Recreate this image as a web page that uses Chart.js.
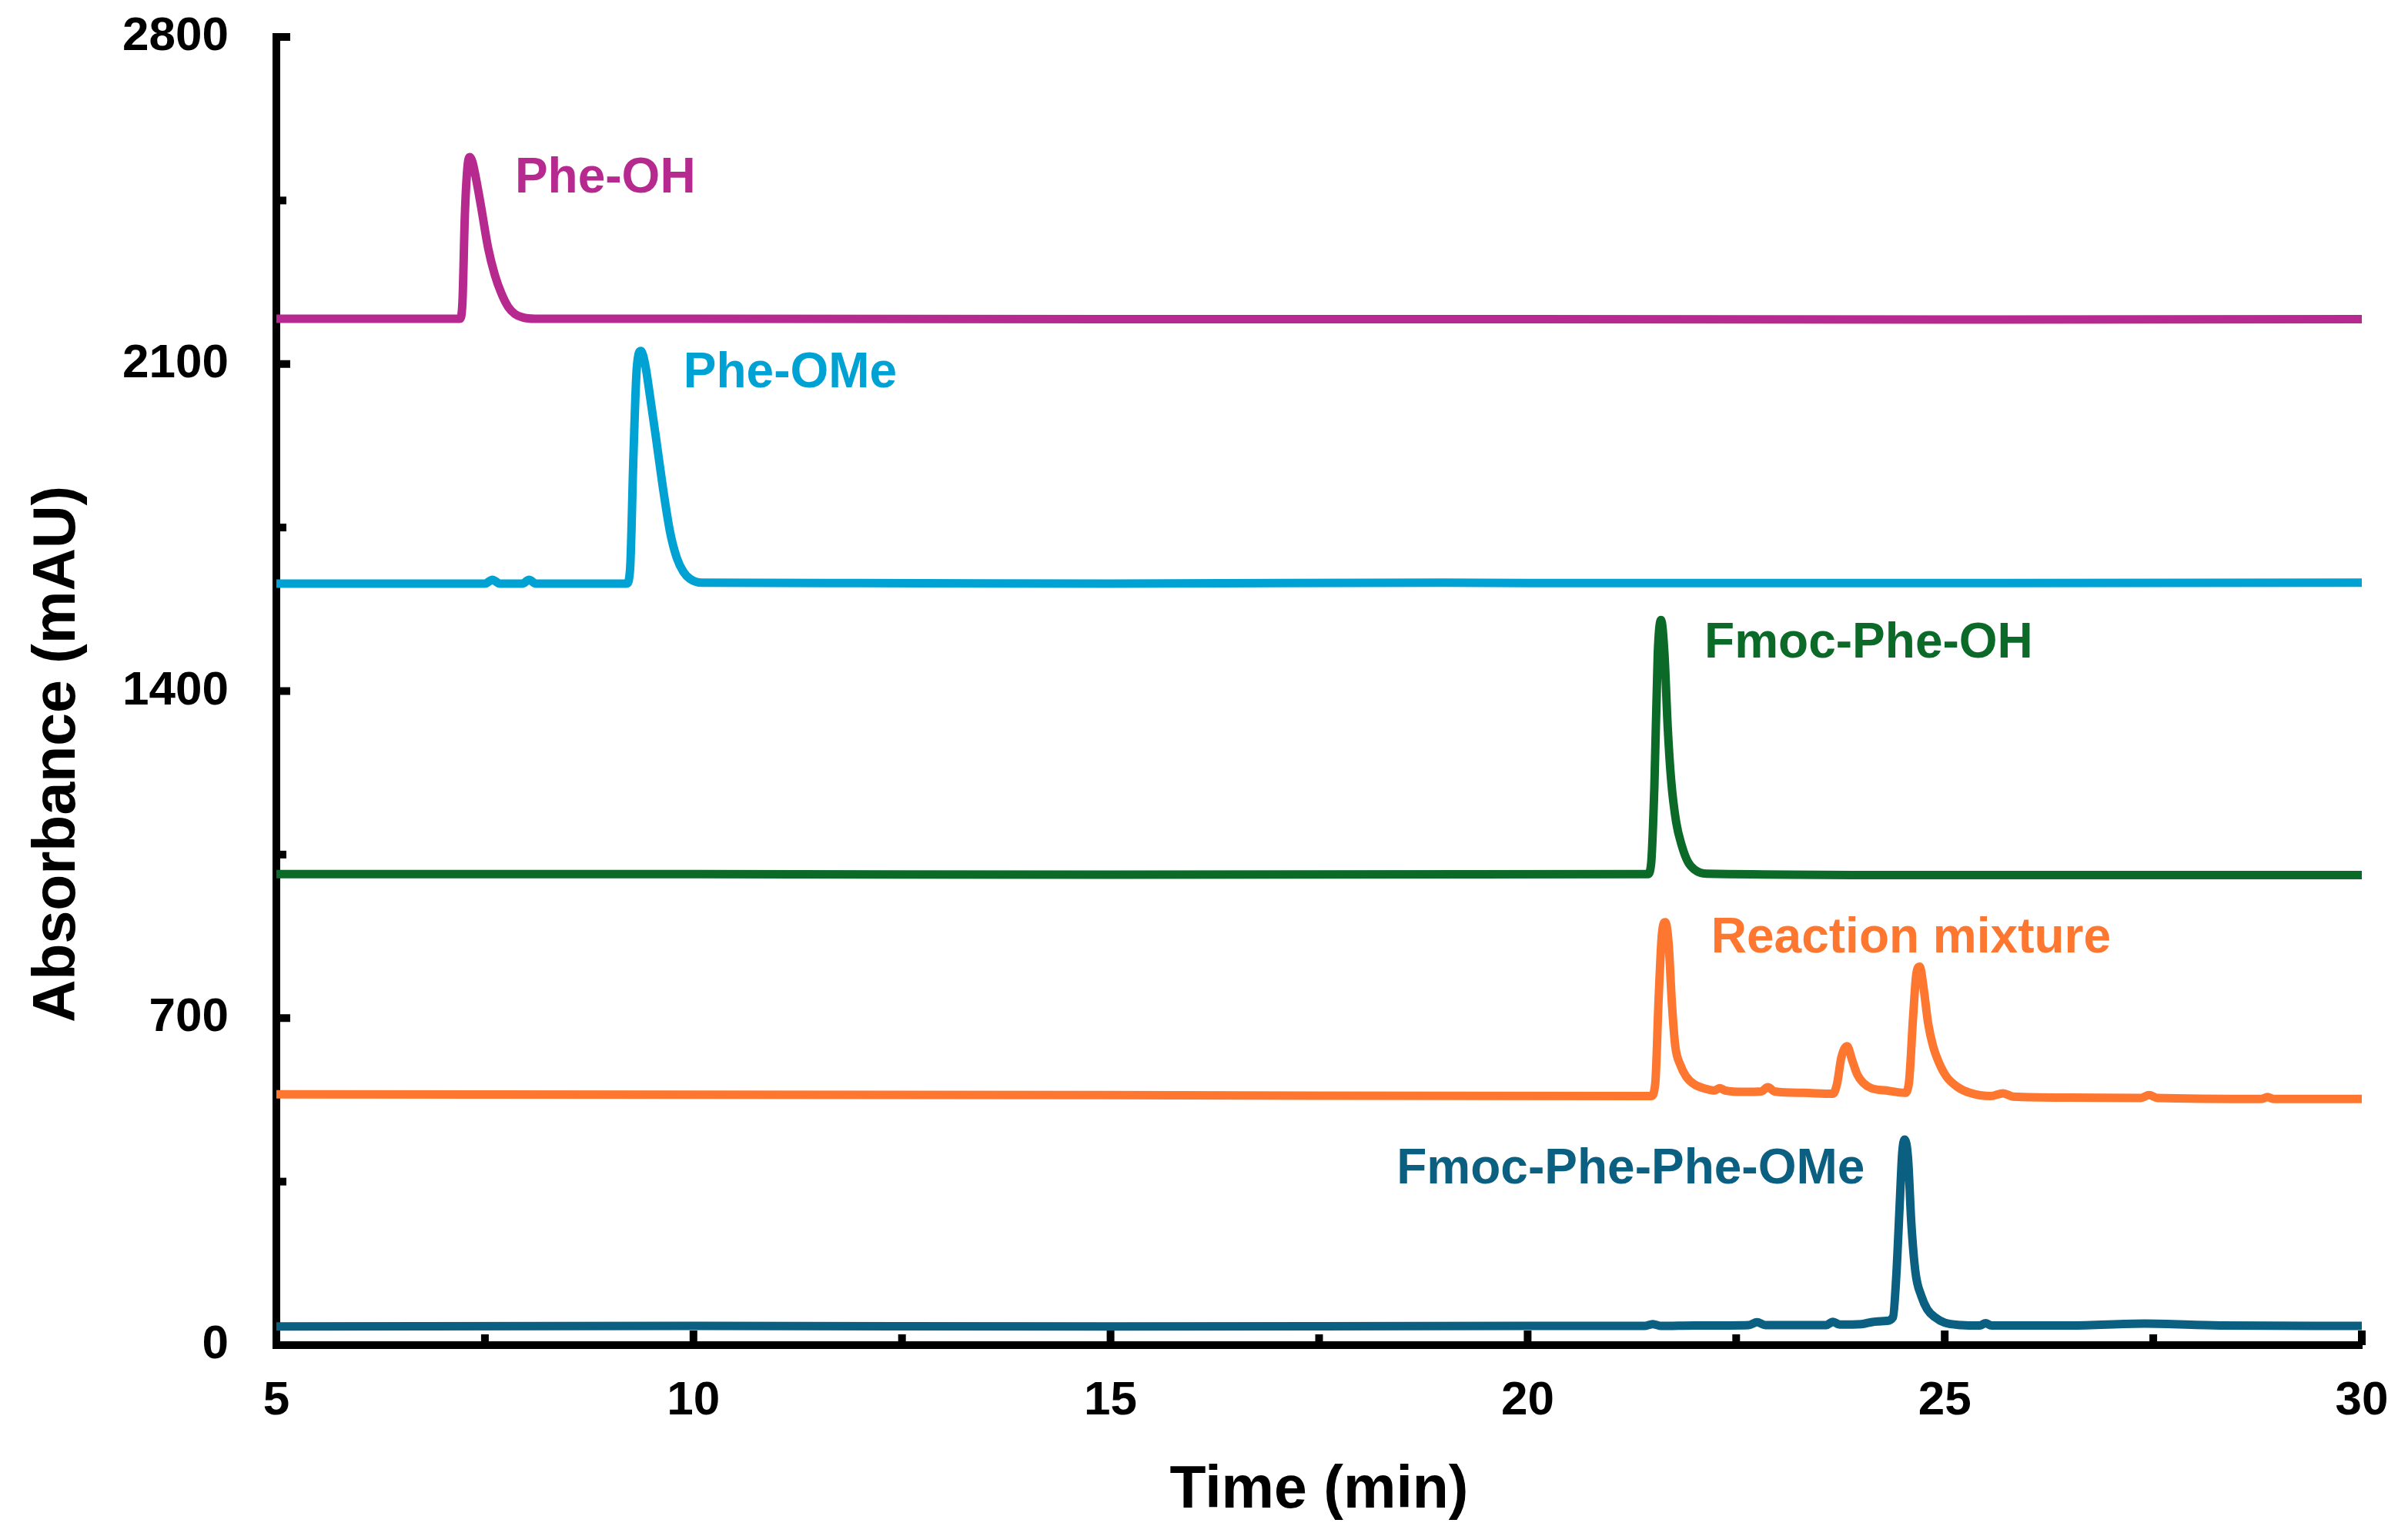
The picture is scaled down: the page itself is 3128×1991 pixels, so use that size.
<!DOCTYPE html>
<html lang="en">
<head>
  <meta charset="utf-8" />
  <title>HPLC chromatograms</title>
  <script src="https://cdn.jsdelivr.net/npm/chart.js"></script>
  <style>
    html, body { margin: 0; padding: 0; background: #fff; }
    #hplc { display: block; }
  </style>
</head>
<body>
  <canvas id="hplc" width="3128" height="1991"></canvas>

  <script>
    // Chromatogram traces: retention time (min) / absorbance (mAU)
    const pheOhTime = [5, 7.2, 7.23, 7.26, 7.29, 7.32, 7.35, 7.39, 7.45, 7.54, 7.62, 7.7, 7.78, 7.86, 7.95, 8.1, 10, 15, 20, 25, 30];
    const pheOhAbs  = [2197, 2197, 2230, 2420, 2520, 2543, 2533, 2500, 2441, 2347, 2290, 2250, 2222, 2207, 2200, 2197, 2197, 2196, 2196, 2195, 2196];

    const pheOMeTime = [5, 7.5, 7.59, 7.68, 7.95, 8.03, 8.11, 9.2, 9.24, 9.28, 9.32, 9.37, 9.42, 9.48, 9.55, 9.63, 9.72, 9.8, 9.88, 9.96, 10.1, 12, 15, 19, 20, 25, 30];
    const pheOMeAbs  = [1630, 1630, 1638, 1630, 1630, 1638, 1630, 1630, 1660, 1900, 2090, 2128, 2100, 2030, 1943, 1840, 1740, 1685, 1655, 1640, 1632, 1631, 1630, 1632, 1631, 1631, 1632];

    const fmocPheOhTime = [5, 10, 15, 21.44, 21.48, 21.52, 21.56, 21.6, 21.64, 21.68, 21.72, 21.78, 21.85, 21.92, 22.0, 22.15, 25, 30];
    const fmocPheOhAbs  = [1008, 1008, 1007, 1008, 1030, 1200, 1480, 1552, 1480, 1320, 1210, 1120, 1068, 1035, 1018, 1009, 1006, 1006];

    const mixtureTime = [5, 10, 15, 21.48, 21.53, 21.57, 21.61, 21.65, 21.69, 21.73, 21.77, 21.83, 21.9, 22.0, 22.15, 22.24, 22.3, 22.37, 22.6, 22.8, 22.88, 22.96, 23.3, 23.66, 23.71, 23.76, 23.83, 23.89, 23.95, 24.02, 24.12, 24.3, 24.52, 24.57, 24.62, 24.66, 24.7, 24.75, 24.8, 24.86, 24.93, 25.02, 25.15, 25.3, 25.55, 25.7, 25.82, 26.5, 27.35, 27.45, 27.55, 28.8, 28.87, 28.94, 30];
    const mixtureAbs  = [537, 536, 535, 533, 560, 740, 880, 905, 860, 730, 640, 600, 575, 558, 548, 545, 550, 545, 542, 543, 552, 543, 540, 538, 560, 615, 640, 610, 580, 562, 550, 545, 540, 560, 700, 795, 810, 760, 690, 640, 605, 575, 553, 540, 533, 539, 532, 530, 529, 535, 529, 527, 531, 527, 527];

    const dipeptideTime = [5, 10, 15, 20, 21.4, 21.5, 21.6, 22.0, 22.65, 22.75, 22.85, 23.4, 23.58, 23.66, 23.74, 24.0, 24.15, 24.3, 24.38, 24.42, 24.46, 24.49, 24.52, 24.56, 24.6, 24.65, 24.72, 24.79, 24.88, 25.0, 25.2, 25.42, 25.49, 25.56, 26.5, 27.4, 28.3, 30];
    const dipeptideAbs  = [40, 41, 40, 41, 41, 45, 41, 42, 43, 49, 43, 43, 43, 50, 44, 45, 50, 52, 60, 150, 300, 410, 440, 400, 260, 155, 105, 77, 60, 48, 43, 42, 47, 42, 42, 46, 42, 41];

    const seriesNames = ['Phe-OH', 'Phe-OMe', 'Fmoc-Phe-OH', 'Reaction mixture', 'Fmoc-Phe-Phe-OMe'];
    const xTicks = [5, 10, 15, 20, 25, 30];
    const yTicks = [0, 700, 1400, 2100, 2800];

    // styling
    const traceColors = ['#b6298f', '#00a2d3', '#0b6a27', '#fd7730', '#0b5f80'];
    // where each trace name sits, in data units (left edge, text baseline)
    const labelAnchors = [[7.86, 2467], [9.88, 2050], [22.12, 1472], [22.2, 840], [18.43, 346]];
    const FONT = "'Liberation Sans', Arial, sans-serif";

    const pairs = (ts, vs) => ts.map((t, i) => ({ x: t, y: vs[i] }));
    const traces = [
      pairs(pheOhTime, pheOhAbs),
      pairs(pheOMeTime, pheOMeAbs),
      pairs(fmocPheOhTime, fmocPheOhAbs),
      pairs(mixtureTime, mixtureAbs),
      pairs(dipeptideTime, dipeptideAbs)
    ];

    // inward major + minor tick marks, like the original plot
    const inwardTicks = {
      id: 'inwardTicks',
      beforeDatasetsDraw(chart) {
        const { ctx, scales: { x, y } } = chart;
        ctx.save();
        ctx.strokeStyle = '#000';
        ctx.lineWidth = 10;
        ctx.lineCap = 'butt';
        const x0 = x.getPixelForValue(5);
        for (let v = 0; v <= 2800; v += 350) {
          const py = y.getPixelForValue(v);
          const len = v % 700 === 0 ? 18 : 13;
          ctx.beginPath();
          ctx.moveTo(x0, py);
          ctx.lineTo(x0 + len, py);
          ctx.stroke();
        }
        const y0 = y.getPixelForValue(0);
        for (let t = 5; t <= 30; t += 2.5) {
          const px = x.getPixelForValue(t);
          const len = t % 5 === 0 ? 19 : 14;
          ctx.beginPath();
          ctx.moveTo(px, y0);
          ctx.lineTo(px, y0 - len);
          ctx.stroke();
        }
        // fill the corner where the two axis lines meet
        ctx.fillStyle = '#000';
        ctx.fillRect(x0 - 5, y0 - 5, 10, 10);
        ctx.restore();
      }
    };

    // trace names and the y axis title
    const textLayer = {
      id: 'textLayer',
      afterDatasetsDraw(chart) {
        const { ctx, scales: { x, y } } = chart;
        ctx.save();
        ctx.font = 'bold 64px ' + FONT;
        ctx.textAlign = 'left';
        ctx.textBaseline = 'alphabetic';
        seriesNames.forEach((name, i) => {
          ctx.fillStyle = traceColors[i];
          ctx.fillText(name, x.getPixelForValue(labelAnchors[i][0]), y.getPixelForValue(labelAnchors[i][1]));
        });

        ctx.translate(76, y.getPixelForValue(1265));
        ctx.rotate(-Math.PI / 2);
        ctx.font = 'bold 77px ' + FONT;
        ctx.fillStyle = '#000';
        ctx.textAlign = 'center';
        ctx.textBaseline = 'middle';
        ctx.fillText('Absorbance (mAU)', 0, 0);
        ctx.restore();
      }
    };

    const ctx = document.getElementById('hplc').getContext('2d');
    const chart = new Chart(ctx, {
      type: 'line',
      data: {
        datasets: traces.map((pts, i) => ({
          label: seriesNames[i],
          data: pts,
          borderColor: traceColors[i],
          backgroundColor: traceColors[i],
          borderWidth: 11,
          pointRadius: 0,
          cubicInterpolationMode: 'monotone',
          borderJoinStyle: 'round',
          borderCapStyle: 'butt',
          fill: false
        }))
      },
      options: {
        responsive: false,
        animation: false,
        devicePixelRatio: 1,
        layout: { padding: { top: 48, right: 60, left: 0, bottom: 0 } },
        plugins: {
          legend: { display: false },
          tooltip: { enabled: false }
        },
        scales: {
          x: {
            type: 'linear',
            min: 5,
            max: 30,
            afterFit(scale) { scale.height = 244; },
            afterBuildTicks(scale) { scale.ticks = xTicks.map(v => ({ value: v })); },
            // hidden tick marks only reserve the gap between axis and labels
            grid: { display: false, drawTicks: true, tickLength: 36, color: 'rgba(0,0,0,0)' },
            border: { display: true, color: '#000', width: 10 },
            ticks: {
              padding: 0,
              color: '#000',
              font: { family: FONT, size: 62, weight: 'bold' },
              maxRotation: 0,
              callback: v => String(v)
            },
            title: {
              display: true,
              text: 'Time (min)',
              color: '#000',
              font: { family: FONT, size: 77, weight: 'bold' },
              padding: { top: 0, bottom: 8 }
            }
          },
          y: {
            type: 'linear',
            min: 0,
            max: 2800,
            afterFit(scale) { scale.width = 359; },
            afterBuildTicks(scale) { scale.ticks = yTicks.map(v => ({ value: v })); },
            grid: { display: false, drawTicks: true, tickLength: 62, color: 'rgba(0,0,0,0)' },
            border: { display: true, color: '#000', width: 10 },
            ticks: {
              padding: 0,
              color: '#000',
              font: { family: FONT, size: 62, weight: 'bold' },
              callback: v => String(v)
            }
          }
        }
      },
      plugins: [inwardTicks, textLayer]
    });
  </script>
</body>
</html>
